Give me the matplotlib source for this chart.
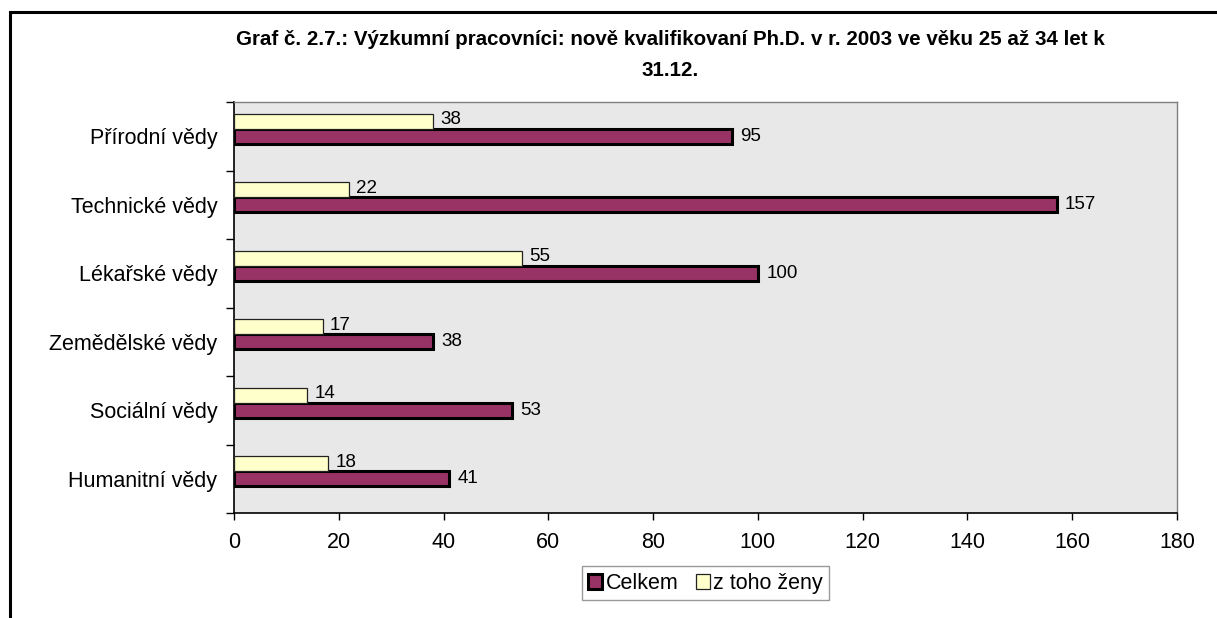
import matplotlib.pyplot as plt
from matplotlib.patches import Rectangle
import numpy as np

# data
obory = ["Přírodní vědy", "Technické vědy", "Lékařské vědy",
         "Zemědělské vědy", "Sociální vědy", "Humanitní vědy"]
celkem = [95, 157, 100, 38, 53, 41]
zeny = [38, 22, 55, 17, 14, 18]
xticks = [0, 20, 40, 60, 80, 100, 120, 140, 160, 180]

plt.rcParams['font.family'] = ['Liberation Sans', 'DejaVu Sans']

fig = plt.figure(figsize=(12.17, 6.18), dpi=100)
ax = fig.add_axes([234 / 1217, 1 - 513 / 618, (1177 - 234) / 1217, (513 - 102) / 618])

# ramecek okolo celeho grafu
fig.patches.append(Rectangle((10 / 1217, -0.1), 1.2, 1 - 12 / 618 + 0.1,
                             transform=fig.transFigure, fill=False,
                             edgecolor='black', linewidth=2.2, zorder=0))

y = np.arange(len(obory))
h = 0.22
b1 = ax.barh(y, celkem, height=h, color='#993366', edgecolor='black',
             linewidth=2.2, label='Celkem', zorder=3)
b2 = ax.barh(y - h, zeny, height=h, color='#FFFFCC', edgecolor='#222222',
             linewidth=0.9, label='z toho ženy', zorder=3)

for rect, v in zip(b1, celkem):
    ax.annotate(str(v), (v, rect.get_y() + rect.get_height() / 2),
                xytext=(6, 0), textcoords='offset points',
                ha='left', va='center', fontsize=13.5)
for rect, v in zip(b2, zeny):
    ax.annotate(str(v), (v, rect.get_y() + rect.get_height() / 2),
                xytext=(5, 1), textcoords='offset points',
                ha='left', va='center', fontsize=13.5)

ax.set_facecolor('#E8E8E8')
ax.set_xlim(0, 180)
ax.set_ylim(len(obory) - 0.5, -0.5)
ax.set_xticks(xticks)
ax.set_xticklabels([str(t) for t in xticks], fontsize=15.5)
ax.set_yticks(y)
ax.set_yticklabels(obory, fontsize=15.5)
ax.set_yticks(np.arange(len(obory) + 1) - 0.5, minor=True)
ax.tick_params(axis='y', which='major', length=0, pad=12)
ax.tick_params(axis='y', which='minor', length=6, width=1)
ax.tick_params(axis='x', length=5, width=1, pad=9)

for s in ['top', 'right']:
    ax.spines[s].set_color('#808080')
    ax.spines[s].set_linewidth(1)
for s in ['left', 'bottom']:
    ax.spines[s].set_color('black')
    ax.spines[s].set_linewidth(1.2)

fig.text(670 / 1217, 1 - 55 / 618,
         "Graf č. 2.7.: Výzkumní pracovníci: nově kvalifikovaní Ph.D. v r. 2003 ve věku 25 až 34 let k\n31.12.",
         ha='center', va='center', fontsize=14.8, fontweight='bold', linespacing=1.75)

leg = ax.legend(handles=[b1, b2], loc='upper center', bbox_to_anchor=(0.5, -0.13),
                ncol=2, frameon=True, fancybox=False, fontsize=15.5,
                handlelength=0.65, handleheight=0.65, handletextpad=0.15,
                columnspacing=0.8, borderpad=0.3, borderaxespad=0)
leg.get_frame().set_edgecolor('#808080')
leg.get_frame().set_linewidth(1)

fig.savefig("out.png", dpi=100)
